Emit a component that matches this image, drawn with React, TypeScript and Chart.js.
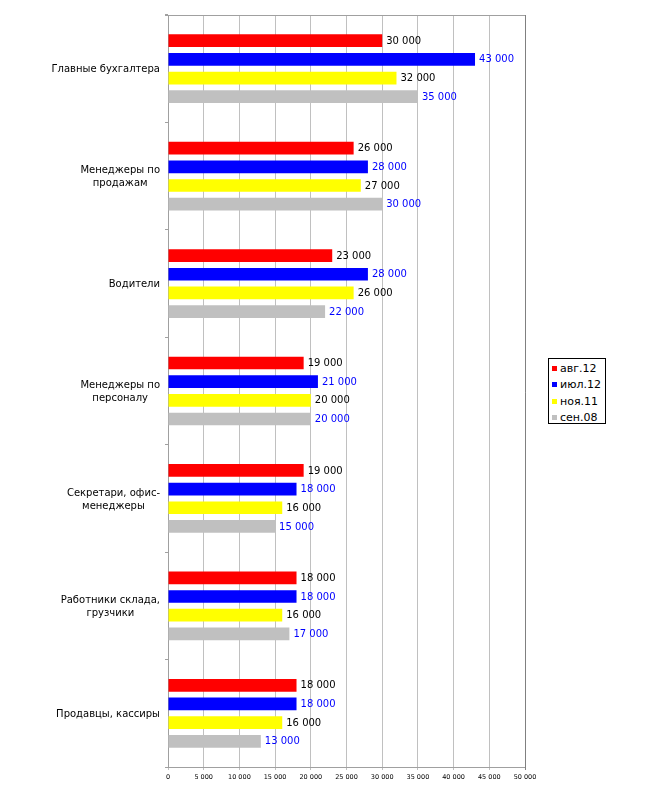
import React, { useEffect, useRef } from "react";
import { Chart, registerables } from "chart.js";

Chart.register(...registerables);

const categories: string[][] = [
  ["Главные бухгалтера"],
  ["Менеджеры по", "продажам"],
  ["Водители"],
  ["Менеджеры по", "персоналу"],
  ["Секретари, офис-", "менеджеры"],
  ["Работники склада,", "грузчики"],
  ["Продавцы, кассиры"],
];

const seriesNames = ["авг.12", "июл.12", "ноя.11", "сен.08"];
const seriesColors = ["#ff0000", "#0000ff", "#ffff00", "#c0c0c0"];
const labelColors = ["#000000", "#0000ff", "#000000", "#0000ff"];

const aug12 = [30000, 26000, 23000, 19000, 19000, 18000, 18000];
const jul12 = [43000, 28000, 28000, 21000, 18000, 18000, 18000];
const nov11 = [32000, 27000, 26000, 20000, 16000, 16000, 16000];
const sep08 = [35000, 30000, 22000, 20000, 15000, 17000, 13000];

const xMin = 0;
const xMax = 50000;
const xStep = 5000;

const FONT = "'DejaVu Sans', Verdana, sans-serif";

const fmt = (v: number) => String(v).replace(/\B(?=(\d{3})+(?!\d))/g, " ");

const valueLabels = {
  id: "valueLabels",
  afterDatasetsDraw(chart: any) {
    const ctx = chart.ctx;
    ctx.save();
    ctx.font = `10px ${FONT}`;
    ctx.textBaseline = "middle";
    ctx.textAlign = "left";
    chart.data.datasets.forEach((ds: any, di: number) => {
      const meta = chart.getDatasetMeta(di);
      ctx.fillStyle = labelColors[di];
      meta.data.forEach((el: any, i: number) => {
        ctx.fillText(fmt(ds.data[i]), el.x + 4, el.y + 0.5);
      });
    });
    ctx.restore();
  },
};

const categoryLabels = {
  id: "categoryLabels",
  afterDraw(chart: any) {
    const ctx = chart.ctx;
    const y = chart.scales.y;
    ctx.save();
    ctx.font = `10px ${FONT}`;
    ctx.fillStyle = "#000000";
    ctx.textBaseline = "middle";
    ctx.textAlign = "center";
    const lh = 13;
    categories.forEach((lines, i) => {
      const cy = y.getPixelForValue(i);
      const w = Math.max(...lines.map((l) => ctx.measureText(l).width));
      const cx = 160 - w / 2;
      const start = cy - ((lines.length - 1) * lh) / 2;
      lines.forEach((l, j) => ctx.fillText(l, cx, start + j * lh + 1));
    });
    ctx.restore();
  },
};

const frame = {
  id: "frame",
  afterDraw(chart: any) {
    const { ctx, chartArea } = chart;
    ctx.save();
    ctx.lineWidth = 1;
    ctx.strokeStyle = "#a0a0a0";
    ctx.beginPath();
    ctx.moveTo(chartArea.left - 3, Math.round(chartArea.top) + 0.5);
    ctx.lineTo(chartArea.right, Math.round(chartArea.top) + 0.5);
    ctx.stroke();
    ctx.strokeStyle = "#808080";
    ctx.beginPath();
    ctx.moveTo(Math.round(chartArea.right) + 0.5, chartArea.top);
    ctx.lineTo(Math.round(chartArea.right) + 0.5, chartArea.bottom + 3);
    ctx.stroke();
    ctx.restore();
  },
};

export default function App() {
  const ref = useRef<HTMLCanvasElement | null>(null);

  useEffect(() => {
    if (!ref.current) return;
    const data = [aug12, jul12, nov11, sep08];
    const chart = new Chart(ref.current, {
      type: "bar",
      data: {
        labels: categories.map((c) => c.join(" ")),
        datasets: data.map((d, i) => ({
          label: seriesNames[i],
          data: d,
          backgroundColor: seriesColors[i],
          borderWidth: 0,
          categoryPercentage: 0.695,
          barPercentage: 0.68,
        })),
      },
      options: {
        indexAxis: "y",
        animation: false,
        responsive: false,
        devicePixelRatio: 1,
        layout: { padding: { top: 15, right: 125, bottom: 0, left: 0 } },
        plugins: {
          legend: { display: false },
          tooltip: { enabled: false },
        },
        scales: {
          x: {
            type: "linear",
            min: xMin,
            max: xMax,
            ticks: {
              stepSize: xStep,
              callback: (v: any) => fmt(Number(v)),
              font: { family: FONT, size: 6.5 },
              color: "#000000",
              padding: 3,
              maxRotation: 0,
            },
            grid: {
              color: "#c0c0c0",
              tickLength: 3,
              drawTicks: true,
            },
            border: { color: "#a0a0a0" },
            afterFit: (s: any) => {
              s.height = 33;
            },
          },
          y: {
            type: "category",
            offset: true,
            ticks: { display: false },
            grid: {
              offset: true,
              drawOnChartArea: false,
              drawTicks: true,
              tickLength: 3,
              color: "#a0a0a0",
            },
            border: { color: "#a0a0a0" },
            afterFit: (s: any) => {
              s.width = 168;
            },
          },
        },
      },
      plugins: [valueLabels, categoryLabels, frame],
    } as any);
    return () => chart.destroy();
  }, []);

  const legendRow = (i: number) => (
    <div
      key={i}
      style={{
        display: "flex",
        alignItems: "center",
        height: 16.5,
      }}
    >
      <div
        style={{
          width: 5,
          height: 5,
          background: seriesColors[i],
          marginRight: 3,
        }}
      />
      <span style={{ fontFamily: FONT, fontSize: 11, color: "#000" }}>
        {seriesNames[i]}
      </span>
    </div>
  );

  return (
    <>
      <div style={{ position: "absolute", left: 0, top: 0, width: 650, height: 800 }}>
        <canvas ref={ref} width={650} height={800} style={{ width: 650, height: 800 }} />
      </div>
      <div
        style={{
          position: "absolute",
          left: 548,
          top: 358,
          width: 53,
          height: 63,
          border: "1px solid #000",
          boxSizing: "content-box",
          paddingLeft: 3,
          paddingTop: 1,
          background: "#fff",
        }}
      >
        {[0, 1, 2, 3].map(legendRow)}
      </div>
    </>
  );
}
